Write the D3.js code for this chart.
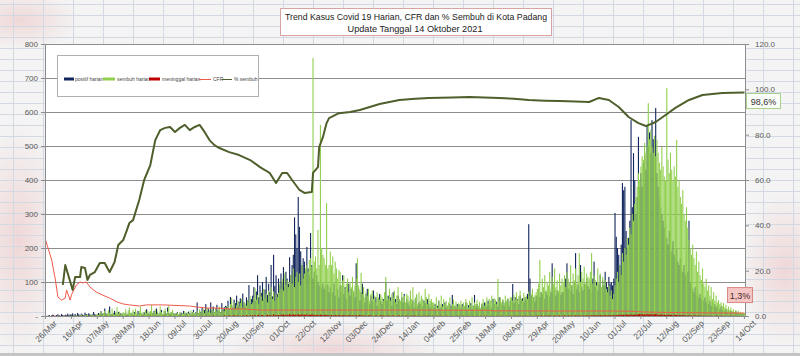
<!DOCTYPE html>
<html><head><meta charset="utf-8">
<script src="https://cdn.jsdelivr.net/npm/d3@7/dist/d3.min.js"></script>
<style>html,body{margin:0;padding:0;background:#f3f3f3;overflow:hidden}svg{display:block}</style>
</head><body>
<svg id="chart" width="800" height="356"></svg>
<script>
const titleLines = ["Trend Kasus Covid 19 Harian, CFR dan % Sembuh di Kota Padang", "Update Tanggal  14 Oktober 2021"];
const xTickLabels = ["26/Mar","16/Apr","07/May","28/May","18/Jun","09/Jul","30/Jul","20/Aug","10/Sep","01/Oct","22/Oct","12/Nov","03/Dec","24/Dec","14/Jan","04/Feb","25/Feb","18/Mar","08/Apr","29/Apr","20/May","10/Jun","01/Jul","22/Jul","12/Aug","02/Sep","23/Sep","14/Oct"];
const xTickEvery = 21;
const leftTicks = [0,100,200,300,400,500,600,700,800];
const rightTicks = [0,20,40,60,80,100,120];
const legendLabels = ["positif harian","sembuh harian","meninggal harian","CFR","% sembuh"];

// daily values, 26 Mar 2020 .. 14 Oct 2021 (21 days per row)
const positif = [
2,0,1,3,0,2,4,1,0,3,5,2,1,6,3,0,4,2,7,3,5,
4,8,3,6,2,9,5,3,7,4,2,10,6,3,8,5,2,4,12,6,3,
5,9,4,14,7,3,22,8,5,11,28,6,4,9,15,7,3,12,5,8,6,
4,7,10,3,6,18,5,8,3,12,6,4,15,9,5,7,3,11,6,20,8,
6,12,4,9,15,5,22,8,3,10,18,6,4,14,7,25,9,5,11,6,8,
5,8,12,4,7,10,3,15,6,9,5,13,8,4,11,18,7,12,40,9,14,
12,25,9,18,35,14,22,10,40,16,28,12,20,33,15,24,11,38,19,26,30,
28,45,20,56,32,25,48,38,60,30,42,52,35,66,40,28,55,45,91,38,50,
60,85,45,72,120,55,90,68,100,50,78,115,62,95,70,150,58,180,88,120,65,
110,90,125,100,144,85,130,110,95,173,120,150,180,290,240,200,350,262,190,150,170,
160,130,203,140,120,244,150,110,130,95,120,100,90,105,85,95,80,88,75,92,70,
85,135,70,95,60,112,80,55,90,70,120,65,85,50,75,95,60,80,45,70,55,
155,60,80,45,70,95,55,40,65,80,50,35,60,45,75,40,55,30,50,65,45,
35,50,40,100,45,60,35,55,30,70,40,50,35,60,45,30,55,40,65,35,50,
40,30,55,35,45,25,50,62,30,40,35,55,28,45,38,30,50,35,25,40,32,
25,35,20,30,45,22,28,35,18,40,25,30,20,35,28,62,22,30,25,35,20,
30,22,35,25,28,40,20,32,25,38,22,30,62,28,35,25,30,20,35,28,40,
35,28,45,30,40,25,50,35,30,42,28,55,38,32,45,30,40,35,50,28,45,
45,94,38,55,40,50,35,60,45,52,40,55,48,65,270,110,60,48,55,42,58,
60,75,55,70,65,80,50,72,62,85,58,70,155,65,80,60,75,68,90,62,70,
70,85,110,155,80,95,75,90,65,100,185,80,92,70,150,85,75,95,80,110,88,
80,95,70,110,160,85,100,75,95,120,80,105,90,130,100,85,115,95,100,90,110,
303,233,200,180,150,210,391,370,380,250,200,230,280,576,320,479,400,300,350,527,380,
420,380,450,470,430,560,500,540,480,576,520,450,612,420,380,350,320,300,280,260,240,
230,210,250,200,190,220,180,170,200,160,150,170,140,130,150,120,110,130,280,100,90,
80,70,85,60,75,55,65,50,60,45,55,40,50,35,45,30,40,28,35,25,30,
25,20,28,18,22,15,20,12,18,10,15,8,12,10,14,8,10,6,9,5,7,
6];
const sembuh = [
0,0,0,0,0,0,0,0,0,0,1,0,0,0,0,2,0,0,0,1,0,
1,0,2,0,3,1,0,2,4,1,0,3,2,5,1,0,6,2,3,1,4,
6,3,8,12,4,9,15,5,7,18,10,6,22,8,4,11,26,7,13,5,9,
12,8,20,6,14,25,9,11,18,7,22,10,6,15,27,8,12,5,18,9,14,
10,15,32,8,12,20,6,14,9,28,11,7,16,22,5,13,30,9,12,18,7,
8,5,10,6,12,4,9,7,14,5,11,8,6,16,9,12,7,10,15,8,20,
10,14,20,8,16,25,12,18,9,22,15,11,24,13,19,28,10,21,16,14,26,
22,30,18,35,53,26,40,20,32,45,28,38,50,25,42,36,30,48,40,58,35,
40,55,82,48,62,35,70,58,45,80,52,66,40,75,60,85,50,72,45,64,55,
68,95,80,110,75,126,90,105,85,100,120,95,140,85,115,130,100,125,90,150,110,
125,140,150,130,165,170,145,759,160,175,140,253,150,562,200,180,170,150,332,140,150,
190,150,175,125,160,140,110,135,130,90,105,120,80,95,110,70,100,85,115,75,90,
110,170,90,75,127,65,85,55,70,60,80,45,65,75,50,60,40,70,55,48,62,
55,45,70,115,60,50,80,45,65,55,75,40,60,85,50,45,70,55,60,40,65,
60,45,75,50,85,40,55,65,35,70,45,60,50,40,80,55,35,65,45,50,40,
40,30,55,25,45,35,60,28,50,35,45,30,40,55,25,35,48,30,42,28,38,
35,45,28,40,30,50,38,25,45,32,55,28,40,35,48,30,42,25,38,50,30,
40,55,35,50,45,60,38,52,48,35,109,45,55,40,50,38,60,45,52,40,55,
55,45,62,50,70,48,58,75,52,45,68,55,60,50,72,58,65,80,55,62,70,
80,95,165,70,110,85,120,75,100,90,130,80,115,95,140,85,105,75,125,90,110,
100,120,85,130,110,95,150,90,125,105,140,95,120,185,100,130,110,145,95,125,115,
110,130,185,95,120,105,90,140,100,125,85,115,95,106,80,70,90,60,75,50,65,
90,110,130,100,150,120,185,160,200,180,230,210,260,240,300,280,330,350,380,420,400,
440,470,460,509,480,500,626,520,547,500,480,530,470,518,480,450,430,497,440,410,400,
670,460,420,480,430,400,440,410,518,380,400,350,330,370,300,280,320,260,224,200,180,
210,170,150,190,130,160,120,106,140,95,85,110,75,90,60,85,50,70,45,60,40,
47,35,40,30,38,25,33,20,28,18,25,15,20,12,18,10,15,9,12,8,10,
9];
const meninggal = [
1,0,0,1,0,0,2,0,1,0,0,1,0,0,0,1,0,0,1,0,0,
0,1,0,0,0,1,0,0,0,1,0,0,0,0,1,0,0,0,0,1,0,
0,0,1,0,0,0,0,1,0,0,0,0,1,0,0,0,0,0,1,0,0,
0,0,0,1,0,0,0,0,0,1,0,0,0,0,0,0,1,0,0,0,0,
0,1,0,0,0,0,1,0,0,0,0,0,1,0,0,0,0,1,0,0,0,
0,0,0,0,1,0,0,0,0,0,1,0,0,0,0,1,0,0,0,0,1,
0,1,0,0,1,0,0,1,0,0,2,0,0,1,0,0,1,0,0,2,0,
1,0,2,1,0,1,3,0,1,2,0,1,0,2,1,0,3,1,0,2,1,
2,1,3,0,2,4,1,2,3,1,0,2,4,1,3,2,1,5,2,3,2,
3,2,4,3,5,2,3,4,2,6,3,4,5,3,4,2,6,3,4,5,3,
4,3,5,2,4,3,5,4,3,2,4,3,2,4,3,2,3,4,2,3,2,
2,3,1,2,3,2,1,3,2,1,2,3,1,2,1,2,3,1,2,1,2,
2,1,2,3,1,2,1,2,1,0,2,1,2,1,0,1,2,1,0,1,2,
1,2,1,0,1,2,1,1,0,2,1,0,1,1,2,0,1,1,0,1,1,
1,0,1,1,0,2,1,0,1,1,0,1,0,1,1,0,2,0,1,0,1,
0,1,0,1,0,1,1,0,0,1,0,1,0,0,1,0,1,0,0,1,0,
1,0,0,1,0,0,1,0,1,0,0,1,0,0,1,0,0,1,0,0,1,
0,1,0,0,1,0,1,0,0,1,0,0,1,0,1,0,0,1,0,1,0,
1,0,1,0,1,1,0,1,0,1,0,2,0,1,0,1,1,0,1,0,1,
1,1,0,2,1,0,1,1,0,2,1,1,0,1,2,0,1,1,2,0,1,
1,2,1,0,2,1,1,2,0,1,2,1,1,2,1,0,2,1,1,2,1,
2,1,2,1,3,1,2,2,1,3,2,1,2,3,1,2,2,3,1,2,3,
2,3,2,4,3,4,3,4,2,5,4,3,4,5,3,4,4,5,4,5,6,
5,6,4,5,4,6,5,4,6,5,4,5,6,5,4,3,5,4,3,4,3,
3,4,3,4,3,2,4,3,3,2,3,2,2,3,2,2,1,2,2,1,2,
1,1,2,1,1,2,1,1,1,1,0,1,1,1,0,1,1,0,0,1,1,
1,0,1,1,0,1,0,0,1,0,1,0,0,1,0,0,0,1,0,0,0,
0];

// CFR (%) samples: day index since 26 Mar 2020
const cfrDay = [0,5,8,10,13,16,17,20,21,25,28,30,33,36,41,46,52,58,63,68,76,82,95,117,122,131,139,149,160,176,187,200,250,300,360,363,420,460,475,480,490,500,515,530,567];
const cfrVal = [33.5,24.7,15.9,8.4,7,7.9,11.5,7,9.3,13.7,15,14.6,15,12.8,10.6,9.3,7.9,6.2,5.3,4.9,4.4,4.9,4.9,4.4,4,3.5,3.5,3.1,3.1,2.6,2.6,2.6,2.6,2.6,2.5,2.3,2.2,2.2,2.1,1.9,1.7,1.6,1.5,1.4,1.3];
// % sembuh samples
const pctDay = [14,16,22,24,28,29,32,34,36,40,44,48,51,52,56,59,63,66,68,71,76,80,85,89,93,97,101,105,109,113,117,121,125,129,133,137,141,149,157,166,174,178,182,187,192,196,200,206,210,216,217,221,222,225,228,230,238,247,255,271,287,300,311,330,344,368,380,392,405,417,430,441,449,457,465,473,481,487,495,503,511,522,533,549,567];
const pctVal = [13.7,22.5,11.5,17.2,17.2,21.6,21.2,15.9,18.1,19.4,23.4,23.4,20.3,19.4,23.8,31.3,33.5,37.9,41,42.3,51.2,60,66.6,77.6,82,83,83.4,81.2,83,84.3,82,83.4,84.3,81.2,77.6,75.4,74.1,72.3,71,68.8,65.7,64.4,63,58.7,63.1,63.1,60,55.6,54.3,54.7,63.1,65.7,74.5,78.9,85.1,87.3,89.5,90,90.9,93.5,95.3,95.8,96.2,96.4,96.6,96.2,95.8,95.3,95,94.8,94.6,94.4,96.2,95.3,92.2,87.8,85.1,83.8,85.6,88.7,91.8,95.3,97.5,98.4,98.6];

const W = 800, H = 356;
const P = {l: 45, r: 745, t: 44, b: 316};
const FONT = "'Liberation Sans', Arial, sans-serif";
const C = {navy: "#13275e", green: "#92d050", red: "#c00000", cfr: "#ef5a4a", pct: "#4f5f2c", grid: "#8d8d8d", text: "#595959"};

const svg = d3.select("#chart");
const defs = svg.append("defs");
const rg = defs.append("radialGradient").attr("id", "blush");
rg.append("stop").attr("offset", "0%").attr("stop-color", "rgb(225,110,110)").attr("stop-opacity", 0.22);
rg.append("stop").attr("offset", "100%").attr("stop-color", "rgb(225,110,110)").attr("stop-opacity", 0);

// spreadsheet background
svg.append("rect").attr("width", W).attr("height", H).attr("fill", "#f4f4f4");
[[18, 240, 45, 120], [330, 350, 110, 30], [785, 270, 45, 80], [20, 20, 60, 30]].forEach(([cx, cy, rx, ry]) => {
  svg.append("ellipse").attr("cx", cx).attr("cy", cy).attr("rx", rx).attr("ry", ry).attr("fill", "url(#blush)");
});
const bg = svg.append("g").attr("stroke", "#d3d9e3").attr("stroke-width", 1);
d3.range(4.5, H, 11).forEach(yy => bg.append("line").attr("x1", 0).attr("x2", W).attr("y1", yy).attr("y2", yy));
d3.range(13.5, W, 30).forEach(xx => bg.append("line").attr("x1", xx).attr("x2", xx).attr("y1", 0).attr("y2", H));
svg.append("rect").attr("x", 0).attr("y", 353).attr("width", W).attr("height", 3).attr("fill", "#c4c4c4");

// scales
const n = positif.length;
const x = d3.scaleBand().domain(d3.range(n)).range([P.l, P.r]).paddingInner(0.1);
const xc = d => x(d) + x.bandwidth() / 2;
const yL = d3.scaleLinear().domain([0, 800]).range([P.b, P.t]);
const yR = d3.scaleLinear().domain([0, 120]).range([P.b, P.t]);

// plot area
svg.append("rect").attr("x", P.l).attr("y", P.t).attr("width", P.r - P.l).attr("height", P.b - P.t).attr("fill", "#ffffff");
svg.append("g").selectAll("line").data(leftTicks.filter(d => d > 0)).join("line")
  .attr("x1", P.l).attr("x2", P.r).attr("y1", d => Math.round(yL(d)) + 0.5).attr("y2", d => Math.round(yL(d)) + 0.5)
  .attr("stroke", C.grid).attr("stroke-width", 1);

// legend box (behind data)
const lg = svg.append("g");
lg.append("rect").attr("x", 57.5).attr("y", 55.5).attr("width", 201).attr("height", 41).attr("fill", "#fff").attr("stroke", "#b0b0b0");

// bars
function bars(data, color) {
  svg.append("g").selectAll("rect").data(data).join("rect")
    .attr("x", (d, i) => x(i)).attr("width", x.bandwidth())
    .attr("y", d => yL(d)).attr("height", d => yL(0) - yL(d)).attr("fill", color);
}
bars(positif, C.navy);
bars(sembuh, C.green);
bars(meninggal, C.red);

// lines
const cfrPts = cfrDay.map((d, i) => [xc(d), yR(cfrVal[i])]);
const pctPts = pctDay.map((d, i) => [xc(d), yR(pctVal[i])]);
svg.append("path").attr("d", d3.line()(cfrPts)).attr("fill", "none").attr("stroke", C.cfr).attr("stroke-width", 1);
svg.append("path").attr("d", d3.line()(pctPts)).attr("fill", "none").attr("stroke", C.pct).attr("stroke-width", 2).attr("stroke-linejoin", "round");

// legend items
const ly = 79;
const items = [
  {type: "rect", color: C.navy, sx: 64, sw: 10, tx: 75},
  {type: "rect", color: C.green, sx: 103, sw: 12, tx: 117},
  {type: "rect", color: C.red, sx: 149, sw: 11, tx: 162},
  {type: "line", color: C.cfr, sx: 199, sw: 12, tx: 213, w: 1},
  {type: "line", color: C.pct, sx: 222, sw: 10, tx: 234, w: 1}
];
items.forEach((it, i) => {
  if (it.type === "rect") lg.append("rect").attr("x", it.sx).attr("y", ly - 1.5).attr("width", it.sw).attr("height", 3).attr("fill", it.color);
  else lg.append("line").attr("x1", it.sx).attr("x2", it.sx + it.sw).attr("y1", ly + 0.5).attr("y2", ly + 0.5).attr("stroke", it.color).attr("stroke-width", it.w);
  lg.append("text").attr("x", it.tx).attr("y", ly).attr("dy", "0.35em").attr("font-family", FONT).attr("font-size", 5).attr("fill", "#444").text(legendLabels[i]);
});

// axes
function styleAxis(g) {
  g.selectAll("path.domain").attr("stroke", C.grid);
  g.selectAll(".tick line").attr("stroke", C.grid);
  g.selectAll("text").attr("font-family", FONT).attr("font-size", 8).attr("fill", C.text);
}
svg.append("g").attr("transform", `translate(${P.l},0)`)
  .call(d3.axisLeft(yL).tickValues(leftTicks).tickSize(4).tickSizeOuter(0).tickPadding(3).tickFormat(d => d === 0 ? "-" : d))
  .call(styleAxis);
svg.append("g").attr("transform", `translate(${P.r},0)`)
  .call(d3.axisRight(yR).tickValues(rightTicks).tickSize(4).tickSizeOuter(0).tickPadding(6).tickFormat(d3.format(".1f")))
  .call(styleAxis);
const xTickIdx = xTickLabels.map((_, i) => i * xTickEvery);
const xa = svg.append("g").attr("transform", `translate(0,${P.b})`)
  .call(d3.axisBottom(x).tickValues(xTickIdx).tickSize(3).tickSizeOuter(0).tickFormat((d, i) => xTickLabels[i]))
  .call(styleAxis);
xa.selectAll("text").attr("text-anchor", "end").attr("font-size", 8.5)
  .attr("transform", "translate(7,3) rotate(-45)").attr("dy", "0.35em").attr("y", 4).attr("x", 0);

// end labels
const fmtComma = v => d3.format(".1f")(v).replace(".", ",") + "%";
const lastPct = pctVal[pctVal.length - 1], lastCfr = cfrVal[cfrVal.length - 1];
const lp = svg.append("g").attr("transform", `translate(${P.r + 1},${yR(lastPct) + 0.5})`);
lp.append("rect").attr("x", 0.5).attr("y", 0.5).attr("width", 34).attr("height", 15).attr("fill", "#fbfdf8").attr("stroke", "#a9d18e");
lp.append("text").attr("x", 17.5).attr("y", 8.5).attr("dy", "0.35em").attr("text-anchor", "middle").attr("font-family", FONT).attr("font-size", 9).attr("fill", "#333").text(fmtComma(lastPct));
const lc = svg.append("g").attr("transform", `translate(${P.r - 18},${yR(lastCfr) - 26})`);
lc.append("rect").attr("x", 0.5).attr("y", 0.5).attr("width", 25).attr("height", 15).attr("fill", "#f4c6c4").attr("stroke", "#d58a86");
lc.append("text").attr("x", 13).attr("y", 8.5).attr("dy", "0.35em").attr("text-anchor", "middle").attr("font-family", FONT).attr("font-size", 9).attr("fill", "#4a2a2a").text(fmtComma(lastCfr));

// title box
const tb = svg.append("g");
tb.append("rect").attr("x", 280.5).attr("y", 8.5).attr("width", 271).attr("height", 27).attr("fill", "#fff").attr("stroke", "#d9a3a3");
tb.append("text").attr("x", 416).attr("y", 16.5).attr("dy", "0.35em").attr("text-anchor", "middle").attr("font-family", FONT).attr("font-size", 9.5).attr("fill", "#222")
  .attr("textLength", 262).attr("lengthAdjust", "spacingAndGlyphs").text(titleLines[0]);
tb.append("text").attr("x", 415).attr("y", 29).attr("dy", "0.35em").attr("text-anchor", "middle").attr("font-family", FONT).attr("font-size", 9.5).attr("fill", "#222")
  .attr("textLength", 135).attr("lengthAdjust", "spacingAndGlyphs").text(titleLines[1]);
</script>
</body></html>
